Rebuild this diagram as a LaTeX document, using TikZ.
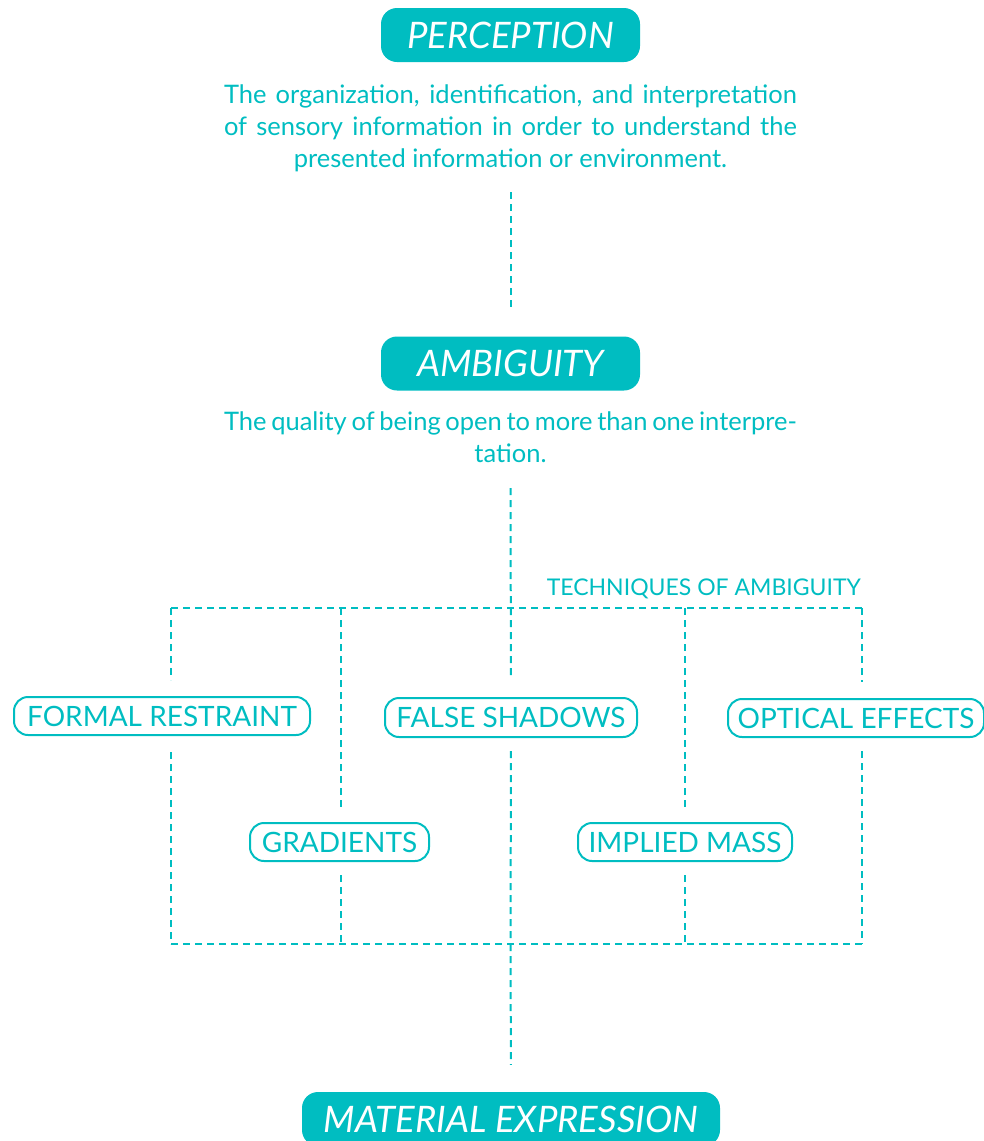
\documentclass[tikz,border=0pt]{standalone}
\usepackage{fontspec}
\setmainfont{Lato}
\definecolor{teal1}{RGB}{0,189,193}
\begin{document}
\begin{tikzpicture}[x=1pt,y=-1pt,
  dashln/.style={draw=teal1, line width=2pt, dash pattern=on 7pt off 5pt},
  titlebox/.style={fill=teal1, rounded corners=16pt, text=white, font=\fontsize{36.5}{42}\selectfont\itshape, minimum height=54pt, inner sep=0pt},
  techbox/.style={draw=teal1, line width=2pt, rounded corners=14pt, text=teal1, font=\fontsize{28}{32}\selectfont, minimum height=38pt, inner sep=0pt},
  descline/.style={text=teal1, font=\fontsize{25.5}{32}\selectfont, inner sep=0pt, anchor=base},
  label/.style={text=teal1, font=\fontsize{23}{26}\selectfont, inner sep=0pt, anchor=base east}]
\useasboundingbox (0,0) rectangle (984,1141);
% title boxes
\node[titlebox, minimum width=259pt] (perc) at (510.5,35) {PERCEPTION};
\node[titlebox, minimum width=259pt] (amb) at (510.5,363.5) {AMBIGUITY};
\node[titlebox, minimum width=418pt] (mat) at (511,1119) {MATERIAL EXPRESSION};
% descriptions
\node[descline] (pd1) at (510.5,103) {\makebox[573pt][s]{The organization, identification, and interpretation}};
\node[descline] (pd2) at (510.5,135) {\makebox[573pt][s]{of sensory information in order to understand the}};
\node[descline] (pd3) at (510.5,167) {presented information or environment.};
\node[descline] (ad1) at (510.5,430) {\makebox[573pt][s]{The quality of being open to more than one interpre-}};
\node[descline] (ad2) at (510.5,462) {tation.};
\node[label] (tech) at (861,595) {TECHNIQUES OF AMBIGUITY};
% technique boxes
\node[techbox, minimum width=296pt] (fr) at (162,716) {FORMAL RESTRAINT};
\node[techbox, minimum width=252pt, minimum height=39pt] (fs) at (511,717.5) {FALSE SHADOWS};
\node[techbox, minimum width=256pt] (oe) at (856,718) {OPTICAL EFFECTS};
\node[techbox, minimum width=179pt] (gr) at (339.5,842) {GRADIENTS};
\node[techbox, minimum width=214pt] (im) at (685,842) {IMPLIED MASS};
% grid coordinates
\coordinate (p0) at (510.5,192);
\coordinate (a0) at (510.5,488);
\coordinate (t1) at (171,608);
\coordinate (t2) at (341,608);
\coordinate (t3) at (510.5,608);
\coordinate (t4) at (685,608);
\coordinate (t5) at (862,608);
\coordinate (b1) at (171,944);
\coordinate (b2) at (341,944);
\coordinate (b3) at (510.5,944);
\coordinate (b4) at (685,944);
\coordinate (b5) at (862,944);
% connectors
\draw[dashln, shorten >=25pt] (p0) -- (amb.north);
\draw[dashln, shorten >=18pt] (a0) -- (fs.north);
\draw[dashln] (t1) -- (t5);
\draw[dashln] (b1) -- (b5);
\draw[dashln, shorten >=16pt] (t1) -- (t1 |- fr.north);
\draw[dashln, shorten <=16pt] (b1 |- fr.south) -- (b1);
\draw[dashln, shorten >=15pt] (t2) -- (t2 |- gr.north);
\draw[dashln, shorten <=13pt] (b2 |- gr.south) -- (b2);
\draw[dashln, shorten <=13pt] (fs.south) -- (b3);
\draw[dashln, shorten >=15pt] (t4) -- (t4 |- im.north);
\draw[dashln, shorten <=13pt] (b4 |- im.south) -- (b4);
\draw[dashln, shorten >=16pt] (t5) -- (t5 |- oe.north);
\draw[dashln, shorten <=13pt] (b5 |- oe.south) -- (b5);
\draw[dashln, shorten >=27pt] (b3) -- (mat.north);
\end{tikzpicture}
\end{document}
